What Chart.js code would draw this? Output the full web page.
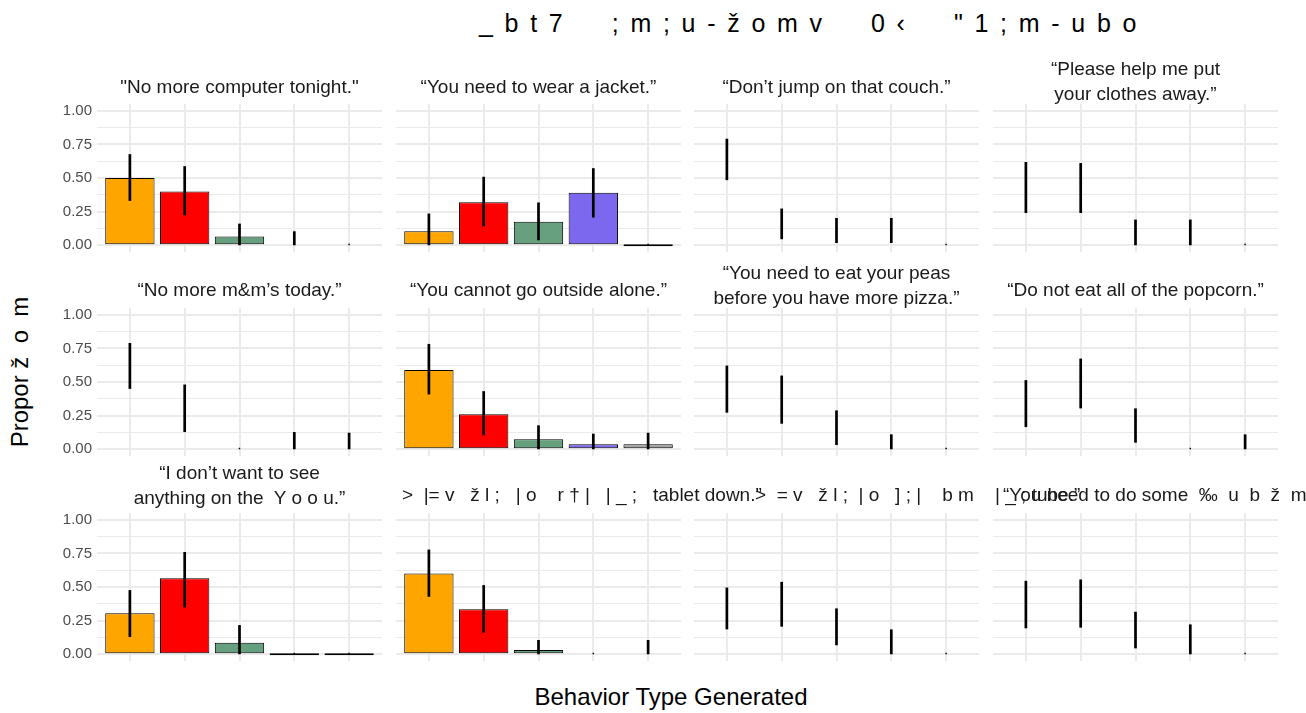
<!DOCTYPE html>
<html>
<head>
<meta charset="utf-8">
<title>Behavior Type Generated</title>
<script src="https://cdn.jsdelivr.net/npm/chart.js@4.4.1/dist/chart.umd.min.js"></script>
<style>
	body { margin:0; width:1306px; height:713px; overflow:hidden; background:#ffffff; position:relative; font-family:"Liberation Sans", Arial, Helvetica, sans-serif; }
	canvas { position:absolute; }
	.txt { position:absolute; white-space:pre; color:#1A1A1A; }
</style>
</head>
<body>
<script>
/* =========================================================== DATA =========================================================== */
var categories = ['Type 1','Type 2','Type 3','Type 4','Type 5'];
var barColors  = ['#FFA500','#FF0000','#66A07E','#7B68EE','#A3A3A3'];

var panelTitles = [
	'"No more computer tonight."',
	'\u201CYou need to wear a jacket.\u201D',
	'\u201CDon\u2019t jump on that couch.\u201D',
	'\u201CPlease help me put\nyour clothes away.\u201D',
	'\u201CNo more m&m\u2019s today.\u201D',
	'\u201CYou cannot go outside alone.\u201D',
	'\u201CYou need to eat your peas\nbefore you have more pizza.\u201D',
	'\u201CDo not eat all of the popcorn.\u201D',
	'\u201CI don\u2019t want to see\nanything on the  Y o o u.\u201D',
	'>  |= v   \u017E l ;   | o    r \u2020 |   | _ ;   tablet down.\u201D',
	'>  = v   \u017E l ;  | o   ] ; |    b m    | _ ; tube.\u201D',
	'\u201CYou need to do some  \u2030  u  b  \u017E  m'
];

// bar heights per panel (null = no bar drawn)
var barValues = [
	[0.50, 0.40, 0.065, null, null],
	[0.105, 0.32, 0.175, 0.39, 0],
	null,
	null,
	null,
	[0.59, 0.26, 0.075, 0.037, 0.037],
	null,
	null,
	[0.305, 0.565, 0.085, 0, 0],
	[0.60, 0.335, 0.032, null, null],
	null,
	null
];

// error bar ends per panel
var errLow = [
	[0.33, 0.223, 0, 0, 0],
	[0, 0.141, 0.037, 0.206, 0],
	[0.484, 0.045, 0.017, 0.017, 0],
	[0.24, 0.24, 0, 0, 0],
	[0.449, 0.128, 0, 0, 0],
	[0.407, 0.104, 0, 0, 0],
	[0.272, 0.19, 0.032, 0, 0],
	[0.165, 0.304, 0.049, 0, 0],
	[0.128, 0.348, 0, 0, 0],
	[0.427, 0.16, 0, 0, 0],
	[0.185, 0.205, 0.067, 0, 0],
	[0.193, 0.198, 0.044, 0, 0]
];
var errHigh = [
	[0.677, 0.588, 0.161, 0.104, 0],
	[0.236, 0.509, 0.318, 0.573, 0],
	[0.792, 0.273, 0.203, 0.203, 0],
	[0.619, 0.611, 0.191, 0.191, 0],
	[0.79, 0.481, 0, 0.128, 0.123],
	[0.783, 0.432, 0.178, 0.116, 0.123],
	[0.622, 0.548, 0.289, 0.111, 0],
	[0.514, 0.674, 0.304, 0, 0.111],
	[0.477, 0.76, 0.217, 0, 0],
	[0.778, 0.514, 0.106, 0, 0.106],
	[0.496, 0.538, 0.341, 0.185, 0],
	[0.546, 0.556, 0.316, 0.222, 0]
];

var yTickValues  = [0, 0.25, 0.5, 0.75, 1];
var yMinorValues = [0.125, 0.375, 0.625, 0.875];

var mainTitle = '_bt7  ;m;u-\u017Eomv  0\u2039  "1;m-ubo';
var xTitle = 'Behavior Type Generated';
var yTitle = 'Propor \u017E  o  m';

/* =========================================================== LAYOUT =========================================================== */
var FONT = '"Liberation Sans", Arial, Helvetica, sans-serif';
var panelLeft = [97, 396, 694, 993];
var panelTop = [104, 308, 513];
var panelW = 285, panelH = 148, pad = 10, tickW = 42;

// title line centres: [single line, first of two lines]
var stripY = [[86, 68], [289, 272], [494, 472]];
// garbled titles do not centre right, they are placed from the left
var stripLeft = { 9: 402, 10: 755, 11: 1003 };

function addText(str, x, y, size, opts)
{
	opts = opts || {};
	var d = document.createElement('div');
	d.className = 'txt';
	d.textContent = str;
	d.style.fontSize = size + 'px';
	d.style.lineHeight = (opts.lh || Math.round(size * 1.3)) + 'px';
	d.style.left = x + 'px';
	d.style.top = y + 'px';
	if (opts.color) d.style.color = opts.color;
	if (opts.spacing) d.style.letterSpacing = opts.spacing + 'px';
	if (opts.transform) d.style.transform = opts.transform;
	if (opts.align) d.style.textAlign = opts.align;
	document.body.appendChild(d);
	return d;
}

/* =========================================================== ERROR BARS PLUGIN =========================================================== */
var errorBarPlugin =
{
	id: 'errorBars',
	afterDatasetsDraw: function(chart, args, opts)
	{
		var ctx = chart.ctx, xs = chart.scales.x, ys = chart.scales.y;
		ctx.save();
		ctx.strokeStyle = '#000000';
		ctx.lineCap = 'butt';
		opts.low.forEach(function(lo, i)
		{
			var x = xs.getPixelForValue(i);
			var y1 = ys.getPixelForValue(lo);
			var y2 = ys.getPixelForValue(opts.high[i]);
			if (y1 - y2 < 1.5) {			// zero width interval -> tiny dot
				ctx.lineWidth = 1.5;
				y2 = y1 - 1.5;
			} else {
				ctx.lineWidth = 2.7;
			}
			ctx.beginPath();
			ctx.moveTo(x, y1);
			ctx.lineTo(x, y2);
			ctx.stroke();
		});
		ctx.restore();
	}
};

/* =========================================================== PANELS =========================================================== */
function makePanel(p)
{
	var col = p % 4, row = Math.floor(p / 4);
	var extra = col === 0 ? tickW : 0;

	var cv = document.createElement('canvas');
	cv.width = panelW + extra;
	cv.height = panelH + 2 * pad;
	cv.style.left = (panelLeft[col] - extra) + 'px';
	cv.style.top = (panelTop[row] - pad) + 'px';
	document.body.appendChild(cv);

	var bars = [];
	if (barValues[p]) {
		barValues[p].forEach(function(v, i) {
			if (v !== null) bars.push({x: i, y: v});
		});
	}
	var colors = bars.map(function(b) { return barColors[b.x]; });

	new Chart(cv, {
		type: 'bar',
		data: {
			datasets: [{
				data: bars,
				backgroundColor: colors,
				borderColor: '#000000',
				borderWidth: 1,
				borderSkipped: false,
				minBarLength: 2,
				barPercentage: 0.9,
				categoryPercentage: 1.0
			}]
		},
		options: {
			responsive: false,
			animation: false,
			devicePixelRatio: 1,
			layout: { padding: { top: pad, bottom: pad, left: 0, right: 0 } },
			plugins: {
				legend: { display: false },
				tooltip: { enabled: false },
				errorBars: { low: errLow[p], high: errHigh[p] }
			},
			scales: {
				x: {
					type: 'linear',
					min: -0.6,
					max: 4.6,
					offset: false,
					border: { display: false },
					grid: { color: '#EBEBEB', lineWidth: 2, drawTicks: false, offset: false },
					ticks: { display: false },
					afterBuildTicks: function(s) { s.ticks = categories.map(function(c, i) { return {value: i}; }); },
					afterFit: function(s) { s.height = 0; }
				},
				y: {
					min: -0.05,
					max: 1.05,
					border: { display: false },
					grid: {
						color: '#EBEBEB',
						drawTicks: false,
						lineWidth: function(c) { return yTickValues.indexOf(c.tick.value) >= 0 ? 2 : 1; }
					},
					ticks: {
						display: col === 0,
						autoSkip: false,
						padding: 5,
						color: '#4D4D4D',
						font: { family: FONT, size: 15 },
						callback: function(v) { return yTickValues.indexOf(v) >= 0 ? v.toFixed(2) : ''; }
					},
					afterBuildTicks: function(s) {
						s.ticks = yTickValues.concat(yMinorValues).sort(function(a, b) { return a - b; }).map(function(v) { return {value: v}; });
					},
					afterFit: function(s) { s.width = extra; s.paddingTop = 0; s.paddingBottom = 0; }
				}
			}
		},
		plugins: [errorBarPlugin]
	});

	// strip title
	var title = panelTitles[p];
	var twoLines = title.indexOf('\n') >= 0;
	var cy = twoLines ? stripY[row][1] : stripY[row][0];
	if (stripLeft[p] !== undefined) {
		addText(title, stripLeft[p], cy - 12.5, 19, { lh: 25 });
	} else {
		var cx = panelLeft[col] + panelW / 2;
		addText(title, cx, cy - 12.5, 19, { lh: 25, align: 'center', transform: 'translateX(-50%)' });
	}
}

for (var p = 0; p < 12; p++) makePanel(p);

/* =========================================================== TITLES =========================================================== */
addText(mainTitle, 479, 8, 25, { lh: 30, spacing: 11.7, color: '#000000' });
addText(xTitle, 671, 683, 24, { lh: 28, color: '#000000', transform: 'translateX(-50%)' });
addText(yTitle, 20, 372, 24, { lh: 28, color: '#000000', transform: 'translate(-50%,-50%) rotate(-90deg)' });
</script>
</body>
</html>
